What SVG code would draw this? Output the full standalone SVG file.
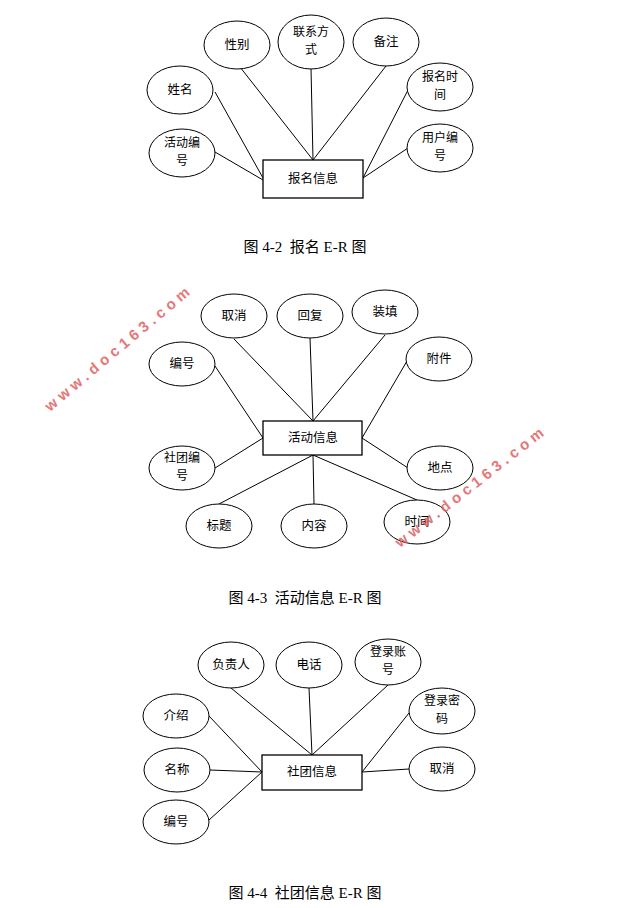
<svg xmlns="http://www.w3.org/2000/svg" width="619" height="908" viewBox="0 0 619 908">
<style>
.e{fill:#fff;stroke:#000;stroke-width:1}
.b{fill:#fff;stroke:#000;stroke-width:1.3}
.t{font-family:"Noto Sans CJK SC",sans-serif;font-size:12.5px;text-anchor:middle;fill:#000}
.s{font-size:12px}
.c{font-family:"Liberation Serif","Noto Sans CJK SC",serif;font-size:15px;text-anchor:middle;fill:#000;white-space:pre}
#connectors line{stroke:#000;stroke-width:1}
.w{font-family:"Liberation Sans",sans-serif;font-size:15px;font-weight:bold;fill:#e06060;letter-spacing:4.5px;opacity:0.85}
</style>
<rect width="619" height="908" fill="#fff"/>
<g id="connectors">
<line x1="215" y1="92" x2="263" y2="178"/><line x1="215" y1="152" x2="263" y2="180"/>
<line x1="240" y1="67" x2="313" y2="160"/><line x1="311" y1="68" x2="313" y2="160"/>
<line x1="386" y1="66" x2="313" y2="160"/><line x1="408" y1="90" x2="363" y2="178"/>
<line x1="408" y1="148" x2="363" y2="178"/>
<line x1="234" y1="339" x2="313" y2="421"/><line x1="310" y1="338" x2="313" y2="421"/>
<line x1="385" y1="335" x2="313" y2="421"/><line x1="215" y1="366" x2="263" y2="438"/>
<line x1="407" y1="361" x2="362" y2="438"/><line x1="215" y1="468" x2="263" y2="438"/>
<line x1="408" y1="468" x2="362" y2="438"/><line x1="219" y1="504" x2="313" y2="455"/>
<line x1="314" y1="504" x2="313" y2="455"/><line x1="417" y1="500" x2="313" y2="455"/>
<line x1="231" y1="688" x2="312" y2="755"/><line x1="309" y1="688" x2="312" y2="755"/>
<line x1="388" y1="685" x2="312" y2="755"/><line x1="209" y1="716" x2="262" y2="772"/>
<line x1="210" y1="770" x2="262" y2="772"/><line x1="209" y1="820" x2="262" y2="772"/>
<line x1="409" y1="713" x2="362" y2="772"/><line x1="409" y1="769" x2="362" y2="772"/>
</g>
<g id="n1"><rect class="b" x="263" y="160" width="100" height="38"/><text class="t" x="313" y="183">报名信息</text></g>
<g id="n1a"><ellipse class="e" cx="237" cy="45" rx="33" ry="24"/><text class="t" x="237" y="49">性别</text></g>
<g id="n1b"><ellipse class="e" cx="311" cy="42" rx="33" ry="27"/><text class="t s" x="311" y="36">联系方</text><text class="t s" x="311" y="54">式</text></g>
<g id="n1c"><ellipse class="e" cx="386" cy="42" rx="33" ry="24"/><text class="t" x="386" y="46">备注</text></g>
<g id="n1d"><ellipse class="e" cx="180" cy="90" rx="33" ry="24"/><text class="t" x="180" y="94">姓名</text></g>
<g id="n1e"><ellipse class="e" cx="440" cy="87" rx="33" ry="24"/><text class="t s" x="440" y="81">报名时</text><text class="t s" x="440" y="99">间</text></g>
<g id="n1f"><ellipse class="e" cx="182" cy="153" rx="33" ry="24"/><text class="t s" x="182" y="147">活动编</text><text class="t s" x="182" y="165">号</text></g>
<g id="n1g"><ellipse class="e" cx="440" cy="148" rx="33" ry="24"/><text class="t s" x="440" y="142">用户编</text><text class="t s" x="440" y="160">号</text></g>
<text class="c" x="305" y="252" xml:space="preserve">图 4-2  报名 E-R 图</text>

<g id="n2"><rect class="b" x="263" y="421" width="99" height="34"/><text class="t" x="313" y="442">活动信息</text></g>
<g id="n2a"><ellipse class="e" cx="234" cy="316" rx="33" ry="22"/><text class="t" x="234" y="320">取消</text></g>
<g id="n2b"><ellipse class="e" cx="310" cy="316" rx="33" ry="22"/><text class="t" x="310" y="320">回复</text></g>
<g id="n2c"><ellipse class="e" cx="385" cy="312" rx="33" ry="22"/><text class="t" x="385" y="316">装填</text></g>
<g id="n2d"><ellipse class="e" cx="182" cy="364" rx="33" ry="22"/><text class="t" x="182" y="368">编号</text></g>
<g id="n2e"><ellipse class="e" cx="439" cy="359" rx="33" ry="22"/><text class="t" x="439" y="363">附件</text></g>
<g id="n2f"><ellipse class="e" cx="182" cy="468" rx="33" ry="22"/><text class="t s" x="182" y="462">社团编</text><text class="t s" x="182" y="480">号</text></g>
<g id="n2g"><ellipse class="e" cx="440" cy="468" rx="33" ry="22"/><text class="t" x="440" y="472">地点</text></g>
<g id="n2h"><ellipse class="e" cx="219" cy="526" rx="33" ry="22"/><text class="t" x="219" y="530">标题</text></g>
<g id="n2i"><ellipse class="e" cx="314" cy="526" rx="33" ry="22"/><text class="t" x="314" y="530">内容</text></g>
<g id="n2j"><ellipse class="e" cx="417" cy="522" rx="33" ry="22"/><text class="t" x="417" y="526">时间</text></g>
<text class="c" x="305" y="603" xml:space="preserve">图 4-3  活动信息 E-R 图</text>

<g id="n3"><rect class="b" x="262" y="755" width="100" height="35"/><text class="t" x="312" y="776">社团信息</text></g>
<g id="n3a"><ellipse class="e" cx="231" cy="665" rx="33" ry="23"/><text class="t" x="231" y="669">负责人</text></g>
<g id="n3b"><ellipse class="e" cx="309" cy="665" rx="33" ry="23"/><text class="t" x="309" y="669">电话</text></g>
<g id="n3c"><ellipse class="e" cx="388" cy="662" rx="33" ry="23"/><text class="t s" x="388" y="656">登录账</text><text class="t s" x="388" y="674">号</text></g>
<g id="n3d"><ellipse class="e" cx="176" cy="716" rx="33" ry="22"/><text class="t" x="176" y="720">介绍</text></g>
<g id="n3e"><ellipse class="e" cx="442" cy="711" rx="33" ry="23"/><text class="t s" x="442" y="705">登录密</text><text class="t s" x="442" y="723">码</text></g>
<g id="n3f"><ellipse class="e" cx="177" cy="770" rx="33" ry="22"/><text class="t" x="177" y="774">名称</text></g>
<g id="n3g"><ellipse class="e" cx="442" cy="769" rx="33" ry="22"/><text class="t" x="442" y="773">取消</text></g>
<g id="n3h"><ellipse class="e" cx="176" cy="822" rx="33" ry="22"/><text class="t" x="176" y="826">编号</text></g>
<text class="c" x="305" y="898" xml:space="preserve">图 4-4  社团信息 E-R 图</text>

<text class="w" transform="translate(50,412) rotate(-40)">www.doc163.com</text>
<text class="w" transform="translate(400,548) rotate(-38)">www.doc163.com</text>
</svg>
